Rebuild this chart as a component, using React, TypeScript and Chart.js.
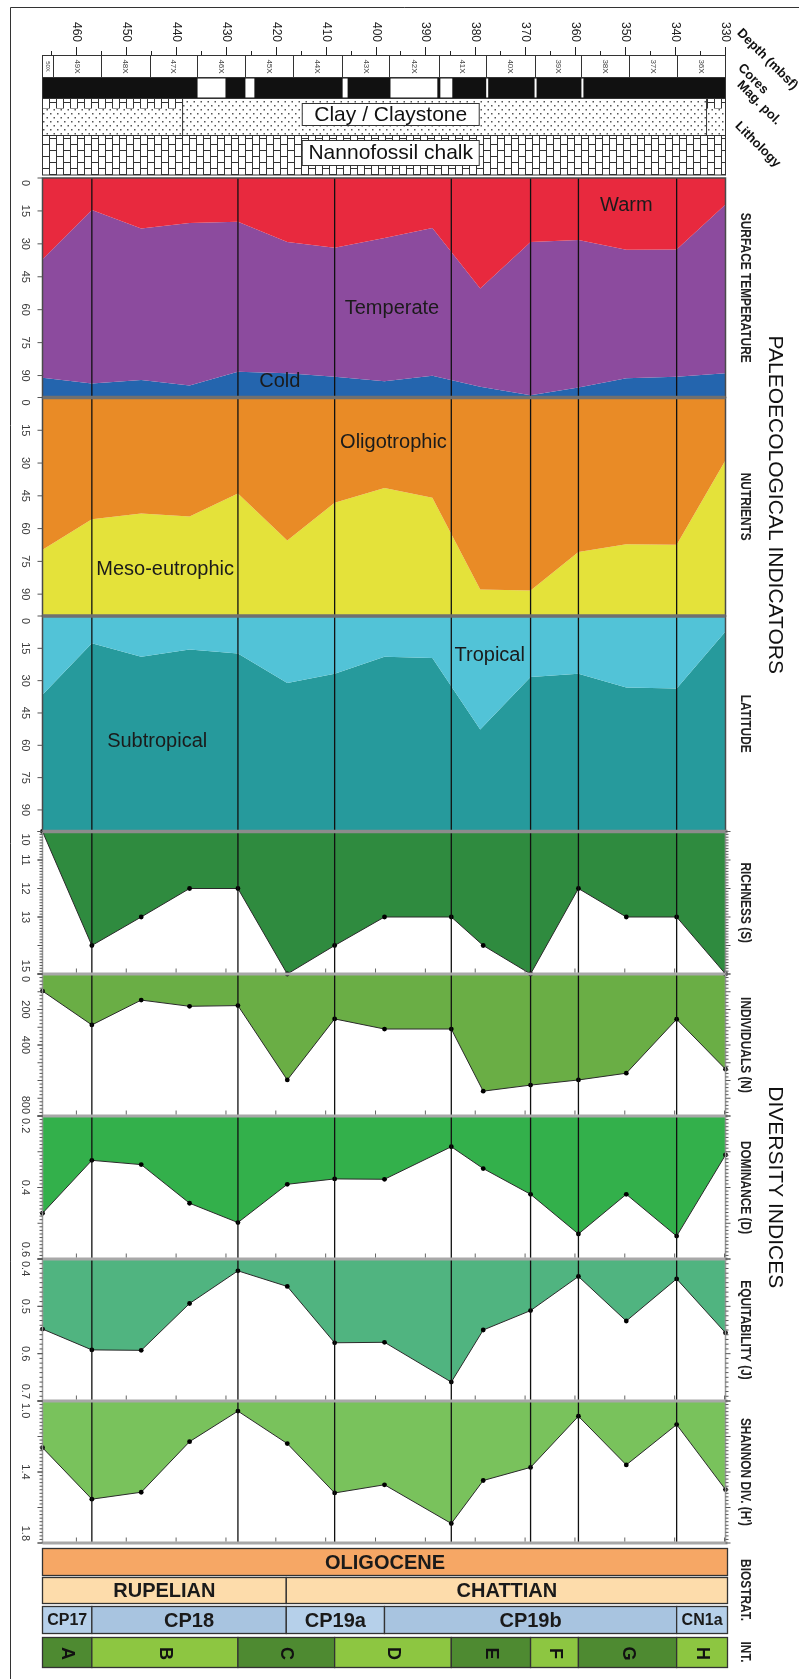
import React, { useEffect, useRef } from 'react';
import { Chart, registerables } from 'chart.js';

Chart.register(...registerables);

// ---------------- data ----------------
const depthTicks = [460, 450, 440, 430, 420, 410, 400, 390, 380, 370, 360, 350, 340, 330];
const depthMinorTicks = [465, 455, 445, 435, 425, 415, 405, 395, 385, 375, 365, 355, 345, 335];
const DEPTH_MIN = 329.8;
const DEPTH_MAX = 466.8;

const coreNames = ['50X', '49X', '48X', '47X', '46X', '45X', '44X', '43X', '42X', '41X', '40X', '39X', '38X', '37X', '36X'];
const coreBounds = [466.8, 464.7, 455.0, 445.3, 435.8, 426.2, 416.6, 406.7, 397.2, 387.3, 377.8, 368.1, 358.7, 349.2, 339.6, 329.8];

// reversed (white) magnetic polarity intervals [deeper, shallower]
const reversedPolarity = [
  [435.7, 430.1], [426.1, 424.3], [406.6, 405.6], [397.0, 387.6], [387.0, 384.6],
  [377.8, 377.4], [368.1, 367.7], [358.7, 358.3],
];
const clayMixedIntervals = [[466.8, 438.7], [333.6, 329.8]];
const lithoLabelSpan = [414.7, 379.2];

// paleoecological indicators (percent)
const paleoDepths = [466.8, 456.9, 447.0, 437.3, 427.6, 417.7, 408.2, 398.2, 388.6, 379.0, 368.9, 359.3, 349.7, 339.6, 329.8];
const warm = [37.0, 14.6, 23.0, 20.5, 19.9, 29.2, 31.8, 27.3, 22.8, 50.3, 29.2, 28.3, 32.7, 32.6, 12.1];
const temperate = [54.0, 79.0, 69.0, 74.0, 68.4, 59.7, 58.8, 65.3, 67.3, 44.8, 69.8, 67.2, 58.5, 58.0, 76.8];
const cold = [9.0, 6.4, 8.0, 5.5, 11.7, 11.1, 9.4, 7.4, 9.9, 4.9, 1.0, 4.5, 8.8, 9.4, 11.1];
const oligotrophic = [69.7, 55.7, 53.1, 54.5, 43.9, 65.4, 48.2, 41.4, 45.9, 87.9, 88.3, 70.7, 67.2, 67.4, 28.7];
const mesoEutrophic = [30.3, 44.3, 46.9, 45.5, 56.1, 34.6, 51.8, 58.6, 54.1, 12.1, 11.7, 29.3, 32.8, 32.6, 71.3];
const tropical = [36.5, 12.7, 18.9, 15.6, 17.4, 31.1, 26.8, 18.9, 19.5, 52.7, 28.3, 26.8, 33.2, 33.6, 7.2];
const subtropical = [63.5, 87.3, 81.1, 84.4, 82.6, 68.9, 73.2, 81.1, 80.5, 47.3, 71.7, 73.2, 66.8, 66.4, 92.8];

// diversity indices
const diversityDepths = [466.8, 456.9, 447.0, 437.3, 427.6, 417.7, 408.2, 398.2, 384.8, 378.4, 368.9, 359.3, 349.7, 339.6, 329.8];
const richness = [10, 14, 13, 12, 12, 15, 14, 13, 13, 14, 15, 12, 13, 13, 15];
const individuals = [96, 287, 147, 182, 178, 597, 253, 310, 310, 660, 626, 597, 559, 255, 536];
const dominance = [0.472, 0.324, 0.336, 0.444, 0.498, 0.391, 0.376, 0.377, 0.286, 0.347, 0.419, 0.53, 0.419, 0.536, 0.309];
const equitability = [0.548, 0.592, 0.593, 0.494, 0.425, 0.458, 0.577, 0.576, 0.66, 0.55, 0.509, 0.437, 0.531, 0.442, 0.556];
const shannon = [1.263, 1.553, 1.514, 1.229, 1.057, 1.24, 1.518, 1.472, 1.69, 1.448, 1.374, 1.086, 1.36, 1.133, 1.499];

// axis tick labels
const pctTicks = [0, 15, 30, 45, 60, 75, 90];
const richTicks = [10, 11, 12, 13, 15];
const indivTicks = [0, 200, 400, 800];
const domTicks = [0.2, 0.4, 0.6];
const equitTicks = [0.4, 0.5, 0.6, 0.7];
const shanTicks = [1.0, 1.4, 1.8];

// stratigraphy
const epochNames = ['OLIGOCENE'];
const epochBounds = [466.8, 329.8];
const stageNames = ['RUPELIAN', 'CHATTIAN'];
const stageBounds = [466.8, 417.9, 329.8];
const zoneNames = ['CP17', 'CP18', 'CP19a', 'CP19b', 'CN1a'];
const zoneBounds = [466.8, 456.9, 417.9, 398.2, 339.6, 329.8];
const intervalNames = ['A', 'B', 'C', 'D', 'E', 'F', 'G', 'H'];
const intervalBounds = [466.8, 456.9, 427.6, 408.2, 384.8, 368.9, 359.3, 339.6, 329.8];

const areaLabels = [
  { text: 'Warm', axis: 'yT', depth: 349.7, value: 12.7 },
  { text: 'Temperate', axis: 'yT', depth: 396.7, value: 59.6 },
  { text: 'Cold', axis: 'yT', depth: 419.2, value: 92.8 },
  { text: 'Oligotrophic', axis: 'yN', depth: 396.4, value: 20.7 },
  { text: 'Meso-eutrophic', axis: 'yN', depth: 442.2, value: 78.5 },
  { text: 'Tropical', axis: 'yL', depth: 377.1, value: 18.2 },
  { text: 'Subtropical', axis: 'yL', depth: 443.8, value: 58.2 },
];

const panelTitles = ['SURFACE TEMPERATURE', 'NUTRIENTS', 'LATITUDE', 'RICHNESS (S)', 'INDIVIDUALS (N)', 'DOMINANCE (D)', 'EQUITABILITY (J)', "SHANNON DIV. (H')"];

// ---------------- helpers ----------------
const FONT = "'Liberation Sans', Arial, sans-serif";
const PANEL_IDS = ['yT', 'yN', 'yL', 'yR', 'yI', 'yD', 'yE', 'yS'];
const TICKS = [pctTicks, pctTicks, pctTicks, richTicks, indivTicks, domTicks, equitTicks, shanTicks];
const TICK_DEC = [0, 0, 0, 0, 0, 1, 1, 1];
const RULER = [null, null, null, [0.1, 1], [20, 100], [0.01, 0.1], [0.01, 0.1], [0.02, 0.2]];

function pts(depths, vals) {
  return depths.map((d, i) => ({ x: d, y: vals[i] }));
}

function drawText(ctx, s, x, y, font, color, angle = 0, align = 'center', sx = 1) {
  ctx.save();
  ctx.translate(x, y);
  if (angle) ctx.rotate(angle);
  if (sx !== 1) ctx.scale(sx, 1);
  ctx.font = font;
  ctx.fillStyle = color;
  ctx.textAlign = align;
  ctx.textBaseline = 'middle';
  ctx.fillText(s, 0, 0);
  ctx.restore();
}

function line(ctx, x0, y0, x1, y1) {
  ctx.beginPath();
  ctx.moveTo(x0, y0);
  ctx.lineTo(x1, y1);
  ctx.stroke();
}

function makeDots() {
  const c = document.createElement('canvas');
  c.width = 7; c.height = 8;
  const g = c.getContext('2d');
  g.fillStyle = '#fff'; g.fillRect(0, 0, 7, 8);
  g.fillStyle = '#555';
  g.fillRect(1, 1, 1.5, 1.5);
  g.fillRect(4.5, 5, 1.5, 1.5);
  return c;
}

function makeBricks() {
  const c = document.createElement('canvas');
  c.width = 14; c.height = 12;
  const g = c.getContext('2d');
  g.fillStyle = '#fff'; g.fillRect(0, 0, 14, 12);
  g.strokeStyle = '#333'; g.lineWidth = 1;
  line(g, 0.5, 0, 0.5, 12);
  line(g, 7.5, 0, 7.5, 12);
  line(g, 0, 0.5, 7, 0.5);
  line(g, 7, 6.5, 14, 6.5);
  return c;
}

const PI2 = Math.PI / 2;

const decor = {
  id: 'decor',
  beforeDraw(chart) {
    const { ctx } = chart;
    ctx.save();
    ctx.fillStyle = '#fff';
    ctx.fillRect(0, 0, chart.width, chart.height);
    ctx.restore();
  },
  afterDatasetsDraw(chart) {
    const { ctx, chartArea: a, scales } = chart;
    const xs = scales.x;
    const px = (d) => xs.getPixelForValue(d);
    ctx.save();

    // diversity side edges
    const rTop = scales.yR.top, sBot = scales.yS.bottom;
    ctx.strokeStyle = '#9a9a9a'; ctx.lineWidth = 1.5;
    line(ctx, a.left, rTop, a.left, sBot);
    line(ctx, a.right, rTop, a.right, sBot);

    // vertical interval lines
    ctx.strokeStyle = '#111'; ctx.lineWidth = 1.3;
    intervalBounds.slice(1, -1).forEach((d) => {
      const x = px(d);
      line(ctx, x, a.top, x, a.bottom);
    });

    // paleo panel borders
    ['yT', 'yN', 'yL'].forEach((id) => {
      const s = scales[id];
      ctx.strokeStyle = '#4a4a4a'; ctx.lineWidth = 1.5;
      ctx.strokeRect(a.left, s.top, a.right - a.left, s.bottom - s.top);
    });
    // separators
    ctx.lineWidth = 3.5; ctx.strokeStyle = '#707070';
    line(ctx, a.left, scales.yT.bottom, a.right, scales.yT.bottom);
    line(ctx, a.left, scales.yN.bottom, a.right, scales.yN.bottom);
    ctx.strokeStyle = '#8c8c8c';
    line(ctx, a.left, scales.yL.bottom, a.right + 2, scales.yL.bottom);
    ctx.lineWidth = 3; ctx.strokeStyle = '#a8a8a8';
    ['yR', 'yI', 'yD', 'yE', 'yS'].forEach((id) => {
      const y = scales[id].bottom;
      line(ctx, a.left, y, a.right + 2, y);
    });

    // depth ticks at bottom of diversity panels
    ctx.strokeStyle = '#666'; ctx.lineWidth = 1;
    ['yR', 'yI', 'yD', 'yE', 'yS'].forEach((id) => {
      const y = scales[id].bottom - 1.5;
      depthTicks.forEach((d) => {
        const x = px(d);
        line(ctx, x, y - 4, x, y);
      });
    });

    // area labels
    areaLabels.forEach((l) => {
      const s = scales[l.axis];
      drawText(ctx, l.text, px(l.depth), s.getPixelForValue(l.value), `20px ${FONT}`, '#1b1b1b');
    });
    ctx.restore();
  },
  afterDraw(chart) {
    const { ctx, chartArea: a, scales } = chart;
    const xs = scales.x;
    const px = (d) => xs.getPixelForValue(d);
    const W = a.right - a.left;
    ctx.save();

    // frame
    ctx.strokeStyle = '#333'; ctx.lineWidth = 1;
    line(ctx, 10.5, 7.5, chart.width, 7.5);
    line(ctx, 10.5, 7.5, 10.5, chart.height);

    // depth axis
    ctx.strokeStyle = '#222'; ctx.lineWidth = 1;
    line(ctx, a.left, 55.5, a.right, 55.5);
    depthTicks.forEach((d) => {
      const x = Math.round(px(d)) + 0.5;
      line(ctx, x, 47, x, 55.5);
      drawText(ctx, String(d), x, 32, `12px ${FONT}`, '#222', PI2);
    });
    depthMinorTicks.forEach((d) => {
      const x = Math.round(px(d)) + 0.5;
      line(ctx, x, 51, x, 55.5);
    });

    // cores
    const cTop = 55.5, cBot = 77.5;
    ctx.strokeStyle = '#333';
    ctx.strokeRect(a.left, cTop, W, cBot - cTop);
    coreBounds.slice(1, -1).forEach((d) => {
      const x = Math.round(px(d)) + 0.5;
      line(ctx, x, cTop, x, cBot);
    });
    coreNames.forEach((n, i) => {
      const cx = (px(coreBounds[i]) + px(coreBounds[i + 1])) / 2;
      drawText(ctx, n, cx, (cTop + cBot) / 2, `${i === 0 ? 6 : 8}px ${FONT}`, '#444', PI2);
    });

    // magnetic polarity
    const mTop = 77.5, mBot = 98.5;
    ctx.fillStyle = '#111';
    ctx.fillRect(a.left, mTop, W, mBot - mTop);
    ctx.fillStyle = '#fff';
    reversedPolarity.forEach(([d0, d1]) => {
      const x0 = px(d0), x1 = px(d1);
      ctx.fillRect(x0, mTop + 1, x1 - x0, mBot - mTop - 2);
    });
    ctx.strokeStyle = '#333';
    ctx.strokeRect(a.left, mTop, W, mBot - mTop);

    // lithology
    const lTop = 98.5, lMid = 135.5, lBot = 175;
    const dots = ctx.createPattern(makeDots(), 'repeat');
    const bricks = ctx.createPattern(makeBricks(), 'repeat');
    ctx.fillStyle = dots;
    ctx.fillRect(a.left, lTop, W, lMid - lTop);
    ctx.fillStyle = bricks;
    clayMixedIntervals.forEach(([d0, d1]) => {
      const x0 = px(d0), x1 = px(d1);
      ctx.fillRect(x0, lTop, x1 - x0, 10);
    });
    ctx.fillRect(a.left, lMid, W, lBot - lMid);
    ctx.strokeStyle = '#333'; ctx.lineWidth = 1;
    clayMixedIntervals.forEach(([d0, d1]) => {
      const inner = d0 > 400 ? px(d1) : px(d0);
      line(ctx, inner, lTop, inner, lMid);
    });
    line(ctx, a.left, lMid, a.right, lMid);
    ctx.strokeRect(a.left, lTop, W, lBot - lTop);
    const bx0 = px(lithoLabelSpan[0]), bx1 = px(lithoLabelSpan[1]);
    ctx.fillStyle = '#fff';
    ctx.fillRect(bx0, 103.5, bx1 - bx0, 22);
    ctx.strokeRect(bx0, 103.5, bx1 - bx0, 22);
    ctx.fillRect(bx0, 140.5, bx1 - bx0, 25);
    ctx.strokeRect(bx0, 140.5, bx1 - bx0, 25);
    drawText(ctx, 'Clay / Claystone', (bx0 + bx1) / 2, 115, `21px ${FONT}`, '#111');
    drawText(ctx, 'Nannofossil chalk', (bx0 + bx1) / 2, 153.5, `21px ${FONT}`, '#111');

    // header labels (diagonal)
    const Q = Math.PI / 4;
    drawText(ctx, 'Depth (mbsf)', 739, 31, `bold 13px ${FONT}`, '#111', Q, 'left');
    drawText(ctx, 'Cores', 740, 66, `bold 13px ${FONT}`, '#111', Q, 'left');
    drawText(ctx, 'Mag. pol.', 739, 83, `bold 13px ${FONT}`, '#111', Q, 'left');
    drawText(ctx, 'Lithology', 737, 124, `bold 13px ${FONT}`, '#111', Q, 'left');

    // left tick labels + ruler ticks
    PANEL_IDS.forEach((id, k) => {
      const s = scales[id];
      ctx.font = `11px ${FONT}`;
      ctx.strokeStyle = '#555'; ctx.lineWidth = 1;
      TICKS[k].forEach((v) => {
        const lab = v.toFixed(TICK_DEC[k]);
        const w = ctx.measureText(lab).width;
        const p = s.getPixelForValue(v);
        const y = Math.min(Math.max(p, s.top + w / 2 + 2), s.bottom - w / 2 - 2);
        drawText(ctx, lab, 25, y, `11px ${FONT}`, '#3a3a3a', PI2);
        ctx.font = `11px ${FONT}`;
        line(ctx, a.left - 5, p, a.left, p);
      });
      const r = RULER[k];
      if (r) {
        const [minor, major] = r;
        const n = Math.round((s.max - s.min) / minor);
        for (let i = 0; i <= n; i++) {
          const v = s.min + i * minor;
          const p = s.getPixelForValue(v);
          const isMajor = Math.abs(v / major - Math.round(v / major)) < 1e-6;
          const len = isMajor ? 5 : 3;
          line(ctx, a.left - len, p, a.left, p);
          line(ctx, a.right, p, a.right + len, p);
        }
      }
      // panel title
      const cy = (s.top + s.bottom) / 2;
      drawText(ctx, panelTitles[k], 745, cy, `bold 14px ${FONT}`, '#222', PI2, 'center', 0.85);
    });

    // group titles
    const pT = (scales.yT.top + scales.yL.bottom) / 2;
    const dT = (scales.yR.top + scales.yS.bottom) / 2;
    drawText(ctx, 'PALEOECOLOGICAL INDICATORS', 775, pT, `21px ${FONT}`, '#111', PI2);
    drawText(ctx, 'DIVERSITY INDICES', 775, dT, `21px ${FONT}`, '#111', PI2);

    // stratigraphy rows
    const rows = [
      { names: epochNames, bounds: epochBounds, y0: 1548.5, y1: 1575.5, colors: ['#F6A765'], rot: false },
      { names: stageNames, bounds: stageBounds, y0: 1577.5, y1: 1603.5, colors: ['#FDDCAB'], rot: false },
      { names: zoneNames, bounds: zoneBounds, y0: 1606.5, y1: 1633.5, colors: ['#B6D0EA', '#A8C4E0'], rot: false },
      { names: intervalNames, bounds: intervalBounds, y0: 1637.5, y1: 1667.5, colors: ['#4E8A31', '#8DC641'], rot: true },
    ];
    rows.forEach((row) => {
      row.names.forEach((n, i) => {
        const x0 = px(row.bounds[i]);
        const x1 = i === row.names.length - 1 ? a.right + 2 : px(row.bounds[i + 1]);
        ctx.fillStyle = row.colors[i % row.colors.length];
        ctx.fillRect(x0, row.y0, x1 - x0, row.y1 - row.y0);
        ctx.strokeStyle = '#333'; ctx.lineWidth = 1.3;
        ctx.strokeRect(x0, row.y0, x1 - x0, row.y1 - row.y0);
        const cx = (x0 + x1) / 2, cy = (row.y0 + row.y1) / 2 + 1;
        if (row.rot) {
          drawText(ctx, n, cx, cy, `bold 18px ${FONT}`, '#111', PI2);
        } else {
          const w = x1 - x0;
          const size = w < 55 ? 16 : w < 70 ? 19 : 20;
          drawText(ctx, n, cx, cy, `bold ${size}px ${FONT}`, '#1a1a1a');
        }
      });
    });
    drawText(ctx, 'BIOSTRAT.', 745, 1590, `bold 14px ${FONT}`, '#222', PI2, 'center', 0.85);
    drawText(ctx, 'INT.', 745, 1652, `bold 14px ${FONT}`, '#222', PI2, 'center', 0.85);
    ctx.restore();
  },
};

function areaDs(axis, depths, vals, color, fill) {
  return {
    yAxisID: axis,
    data: pts(depths, vals),
    backgroundColor: color,
    borderColor: color,
    borderWidth: 0,
    pointRadius: 0,
    fill,
    tension: 0,
  };
}

function divDs(axis, vals, color) {
  return {
    yAxisID: axis,
    data: pts(diversityDepths, vals),
    backgroundColor: color,
    borderColor: '#2a2a2a',
    borderWidth: 1,
    pointRadius: 2.4,
    pointBackgroundColor: '#000',
    pointBorderWidth: 0,
    fill: 'end',
    tension: 0,
    clip: 6,
  };
}

function yAxis(order, weight, min, max, stacked = false) {
  return {
    type: 'linear',
    display: false,
    position: 'left',
    stack: 'panels',
    stackWeight: weight,
    weight: order,
    min,
    max,
    reverse: true,
    stacked,
  };
}

export default function App() {
  const ref = useRef(null);
  useEffect(() => {
    const canvas = ref.current;
    const chart = new Chart(canvas, {
      type: 'line',
      data: {
        datasets: [
          areaDs('yT', paleoDepths, warm, '#E8293E', { value: 0 }),
          areaDs('yT', paleoDepths, temperate, '#8C4B9E', '-1'),
          areaDs('yT', paleoDepths, cold, '#2465AE', '-1'),
          areaDs('yN', paleoDepths, oligotrophic, '#E98B26', { value: 0 }),
          areaDs('yN', paleoDepths, mesoEutrophic, '#E4E23A', '-1'),
          areaDs('yL', paleoDepths, tropical, '#52C3D7', { value: 0 }),
          areaDs('yL', paleoDepths, subtropical, '#269A9C', '-1'),
          divDs('yR', richness, '#2F8B3F'),
          divDs('yI', individuals, '#6AAE45'),
          divDs('yD', dominance, '#33B04B'),
          divDs('yE', equitability, '#50B480'),
          divDs('yS', shannon, '#79C25C'),
        ],
      },
      options: {
        responsive: false,
        animation: false,
        devicePixelRatio: 1,
        layout: { padding: { left: 42.5, right: 73.5, top: 178, bottom: 136 } },
        plugins: { legend: { display: false }, tooltip: { enabled: false } },
        scales: {
          x: { type: 'linear', display: false, reverse: true, min: DEPTH_MIN, max: DEPTH_MAX },
          yT: yAxis(8, 219.5, 0, 100, true),
          yN: yAxis(7, 218.5, 0, 100, true),
          yL: yAxis(6, 215.5, 0, 100, true),
          yR: yAxis(5, 142.5, 10, 15),
          yI: yAxis(4, 142, 0, 800),
          yD: yAxis(3, 143, 0.2, 0.6),
          yE: yAxis(2, 142, 0.4, 0.7),
          yS: yAxis(1, 142, 1.0, 1.8),
        },
      },
      plugins: [decor],
    });
    return () => chart.destroy();
  }, []);
  return (
    <div style={{ position: 'absolute', left: 0, top: 0, width: 799, height: 1679, background: '#fff' }}>
      <canvas ref={ref} width={799} height={1679} style={{ display: 'block', width: 799, height: 1679 }} />
    </div>
  );
}
